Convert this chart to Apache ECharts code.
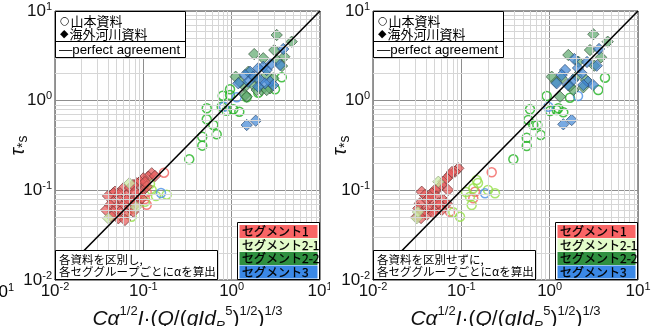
<!DOCTYPE html>
<html><head><meta charset="utf-8">
<script src="https://cdn.jsdelivr.net/npm/echarts@6/dist/echarts.min.js"></script>
<style>
html,body{margin:0;padding:0;background:#fff;}
#wrap{position:relative;width:659px;height:326px;overflow:hidden;background:#fff;}
#c1{position:absolute;left:0;top:0;width:330px;height:326px;}
#c2{position:absolute;left:330px;top:0;width:329px;height:326px;}
</style></head><body>
<div id="wrap"><div id="c1"></div><div id="c2"></div></div>
<script>
// ---------- data ----------
const tickExponentLabels = ['-2', '-1', '0', '1'];
const segmentNames = ['セグメント1', 'セグメント2-1', 'セグメント2-2', 'セグメント3'];
const sourceNames = ['山本資料', '海外河川資料'];
const lineName = 'perfect agreement';
const leftNote = ['各資料を区別し,', '各セググループごとにαを算出'];
const rightNote = ['各資料を区別せずに,', '各セググループごとにαを算出'];
const perfectLine = [[0.01, 0.01], [10, 10]];

// Left panel (各資料を区別し)
const leftSeg1Overseas = [[0.1244,0.1549],[0.1138,0.1419],[0.0999,0.1361],[0.0917,0.1248],[0.0841,0.1198],[0.0593,0.1053],[0.0478,0.0965],[0.0457,0.0927],[0.0544,0.0927],[0.0648,0.0887],[0.0841,0.0815],[0.0544,0.0780],[0.0457,0.0746],[0.0420,0.0686],[0.0499,0.0657],[0.0593,0.0686],[0.0707,0.0657],[0.0841,0.0717],[0.0457,0.0578],[0.0544,0.0578],[0.0648,0.0554],[0.0521,0.0488],[0.0438,0.0508],[0.0770,0.0578],[0.0999,0.1009],[0.1092,0.1098],[0.0917,0.0927],[0.0738,0.0746],[0.0648,0.0780],[0.0958,0.0815],[0.0707,0.1062],[0.0764,0.1147],[0.1044,0.1238],[0.1355,0.1445],[0.0378,0.0603],[0.0398,0.0865],[0.0805,0.0958],[0.0620,0.0467]];
const leftSeg21Overseas = [[0.0694,0.1198],[0.0401,0.0488],[0.0826,0.0652]];
const leftSeg22Overseas = [[3.235,5.40],[4.78,4.55],[3.04,3.67],[1.80,3.31],[3.94,3.09],[3.235,2.84],[1.11,1.85],[1.543,2.10],[2.28,2.97],[1.416,1.431],[1.758,1.495],[2.188,1.315],[2.716,1.373],[1.92,1.776],[2.493,1.932],[2.96,1.776],[1.416,1.157],[1.48,1.107],[1.92,1.315],[2.493,1.315],[3.715,2.435],[1.243,1.615]];
const leftSeg3Overseas = [[3.84,3.77],[3.53,2.50],[2.28,2.39],[2.00,2.30],[1.613,2.10],[2.493,2.197],[1.416,1.932],[1.758,1.85],[1.189,1.562],[1.543,1.627],[2.094,1.70],[2.716,1.627],[2.96,1.495],[2.385,1.562],[1.48,0.535],[1.872,0.598],[2.00,1.431],[2.79,2.564]];
const leftSeg1Yamamoto = [[0.1714,0.1573],[0.1092,0.095],[0.1044,0.080],[0.1092,0.0691]];
const leftSeg21Yamamoto = [[0.119,0.1177],[0.1244,0.1009],[0.1839,0.0894],[0.1044,0.0746],[0.0738,0.0508],[0.139,0.0865]];
const leftSeg22Yamamoto = [[3.69,1.822],[3.096,1.339],[0.958,1.339],[0.792,1.136],[1.48,1.09],[0.522,0.822],[0.771,0.856],[1.044,0.801],[1.22,0.753],[0.879,0.773],[0.522,0.620],[0.620,0.535],[0.465,0.396],[0.677,0.421],[0.465,0.315],[0.331,0.222],[2.00,1.227],[0.958,1.157]];
const leftSeg3Yamamoto = [[0.819,0.856],[1.14,1.09],[0.1585,0.0934]];

// Right panel (各資料を区別せずに)
const rightSeg1Overseas = [[0.0924,0.176],[0.0848,0.1614],[0.0744,0.1483],[0.0683,0.1362],[0.0625,0.1248],[0.0599,0.1147],[0.0549,0.1053],[0.0503,0.1009],[0.0356,0.0965],[0.0388,0.0887],[0.0462,0.0927],[0.0526,0.0849],[0.0625,0.0780],[0.0683,0.0717],[0.0573,0.0686],[0.0462,0.0746],[0.0405,0.0780],[0.0340,0.0717],[0.0326,0.0630],[0.0388,0.0603],[0.0442,0.0630],[0.0503,0.0603],[0.0599,0.0603],[0.0405,0.0531],[0.0482,0.0554],[0.0356,0.0554],[0.0549,0.0717],[0.0313,0.0508],[0.0784,0.160],[0.0442,0.0843],[0.0350,0.0491],[0.0707,0.1009]];
const rightSeg21Overseas = [[0.0549,0.1248],[0.0313,0.0488],[0.0323,0.0573]];
const rightSeg22Overseas = [[3.12,5.50],[4.54,4.55],[2.86,3.67],[1.626,3.23],[3.815,3.045],[3.20,2.454],[1.055,1.85],[1.31,1.107],[1.852,1.315],[2.404,1.41],[2.024,1.884],[2.578,1.70],[1.369,1.776],[2.11,2.72],[1.699,1.457],[1.18,1.615]];
const rightSeg3Overseas = [[3.62,3.77],[1.90,2.915],[3.41,2.454],[1.492,2.197],[1.369,1.932],[2.305,2.02],[1.838,1.70],[1.20,1.562],[1.613,1.495],[2.716,1.627],[3.096,1.495],[2.404,1.495],[1.427,0.545],[1.776,0.609],[2.094,2.313],[2.647,2.70]];
const rightSeg1Yamamoto = [[0.2207,0.1589],[0.1428,0.0965],[0.1366,0.0815],[0.0744,0.0578]];
const rightSeg21Yamamoto = [[0.1493,0.1303],[0.1366,0.1053],[0.2405,0.0927],[0.2004,0.1009],[0.1253,0.0849],[0.1310,0.0686],[0.0811,0.0569],[0.0966,0.0508],[0.1544,0.1207],[0.1129,0.0958]];
const rightSeg22Yamamoto = [[4.23,1.803],[3.55,1.315],[0.926,1.127],[1.699,1.079],[0.599,0.801],[1.20,0.787],[1.009,0.767],[1.427,0.742],[1.253,0.822],[0.573,0.609],[0.653,0.535],[0.725,0.535],[0.792,0.414],[0.550,0.386],[0.550,0.312],[0.388,0.222]];
const rightSeg3Yamamoto = [[0.1854,0.0927],[0.965,0.856],[2.094,1.127]];

// ---------- styles ----------
const FONT = "'Liberation Sans', Arial, 'Noto Sans CJK JP', sans-serif";
const CJK = "'Noto Sans CJK JP', 'Liberation Sans', sans-serif";
const diamondFill = ['rgba(232,92,92,0.9)', 'rgba(205,238,168,0.95)', 'rgba(92,168,108,0.88)', 'rgba(62,134,214,0.88)'];
const diamondEdge = ['#6a3434', '#8c9c78', '#34513a', '#2c4a6e'];
const circleEdge = ['#f2625f', '#96e04a', '#22b322', '#4a90e6'];
const legendFill = ['#f96565', '#e2fbc9', '#2f9040', '#3a88e6'];

const GRID_TOP = 11, GRID_W = 265, GRID_H = 269;

function supRich(big, small) {
  return {
    b: { fontSize: big, fontFamily: FONT, color: '#111', lineHeight: big + 3 },
    s: { fontSize: small, fontFamily: FONT, color: '#111', verticalAlign: 'top', lineHeight: small }
  };
}
function tickFmt(v) {
  const e = Math.round(Math.log10(v));
  return '{b|10}{s|' + tickExponentLabels[e + 2] + '}';
}

function minorLines(axisKey) {
  const arr = [];
  [0.01, 0.1, 1].forEach(d => { for (let m = 2; m <= 9; m++) { const o = {}; o[axisKey] = +(d * m).toPrecision(3); arr.push(o); } });
  return arr;
}

function makeOption(gl, P, note, yNameGap) {
  const xName = '{i|Cα}{sp|1/2}{i|I}{n|·(}{i|Q}{n|/(}{i|gId}{sb|R}{sp|5}{n|)}{sp|1/2}{n|)}{sp|1/3}';
  const nameRich = {
    i: { fontSize: 21, fontStyle: 'italic', fontFamily: FONT, color: '#111', lineHeight: 28 },
    n: { fontSize: 21, fontFamily: FONT, color: '#111', lineHeight: 28 },
    sp: { fontSize: 13, fontFamily: FONT, color: '#111', verticalAlign: 'top', lineHeight: 13 },
    sb: { fontSize: 13, fontStyle: 'italic', fontFamily: FONT, color: '#111', verticalAlign: 'bottom', lineHeight: 13 }
  };
  const series = [];
  series.push({ type: 'line', data: [], silent: true, z: 1,
    markLine: { silent: true, animation: false, symbol: ['none', 'none'], label: { show: false },
      lineStyle: { color: '#d6d6d6', width: 1, type: 'solid' }, emphasis: { disabled: true },
      data: minorLines('xAxis').concat(minorLines('yAxis')) } });
  const circ = [P.s1y, P.s21y, P.s22y, P.s3y];
  circ.forEach((d, k) => series.push({ type: 'scatter', data: d, symbol: 'circle', symbolSize: 9, z: 3,
    itemStyle: { color: 'rgba(255,255,255,0)', borderColor: circleEdge[k], borderWidth: 1.5 } }));
  const dia = [P.s1o, P.s21o, P.s22o, P.s3o];
  dia.forEach((d, k) => series.push({ type: 'scatter', data: d, symbol: 'rect', symbolRotate: 45, symbolSize: 8, z: 4,
    itemStyle: { color: diamondFill[k], borderColor: diamondEdge[k], borderWidth: 0.8 } }));
  series.push({ type: 'line', data: perfectLine, showSymbol: false, silent: true, z: 6,
    lineStyle: { color: '#000', width: 1.6 } });

  const gr = gl + GRID_W, gb = GRID_TOP + GRID_H;
  const graphic = [
    { type: 'rect', z: 50, shape: { x: gl + 0.5, y: GRID_TOP + 0.5, width: 130, height: 46 }, style: { fill: '#fff', stroke: '#000', lineWidth: 1 } },
    { type: 'line', z: 51, shape: { x1: gl, y1: 41.5, x2: gl + 130.5, y2: 41.5 }, style: { stroke: '#000', lineWidth: 1 } },
    { type: 'text', z: 70, style: { x: gl + 5, y: 21, text: '{c|○}{t|' + sourceNames[0] + '}', fill: '#000', verticalAlign: 'middle',
      rich: { c: { fontSize: 11, fontFamily: "'DejaVu Sans', sans-serif", fill: '#000', padding: [0, 1, 0, 0] }, t: { fontSize: 13, fontFamily: CJK, fill: '#000' } } } },
    { type: 'text', z: 70, style: { x: gl + 5, y: 34, text: '{c|◆}{t|' + sourceNames[1] + '}', fill: '#000', verticalAlign: 'middle',
      rich: { c: { fontSize: 11, fontFamily: "'DejaVu Sans', sans-serif", fill: '#000', padding: [0, 1, 0, 0] }, t: { fontSize: 13, fontFamily: CJK, fill: '#000' } } } },
    { type: 'text', z: 70, style: { x: gl + 4, y: 50, text: '—' + lineName, font: '13.3px ' + FONT, fill: '#000', verticalAlign: 'middle' } },
    { type: 'rect', z: 50, shape: { x: gl + 0.5, y: gb - 29.5, width: 162, height: 29 }, style: { fill: '#fff', stroke: '#000', lineWidth: 1 } },
    { type: 'text', z: 70, style: { x: gl + 4, y: gb - 20.5, text: note[0], font: '11.5px ' + CJK, fill: '#000', verticalAlign: 'middle' } },
    { type: 'text', z: 70, style: { x: gl + 4, y: gb - 8, text: note[1], font: '11.5px ' + CJK, fill: '#000', verticalAlign: 'middle' } },
    { type: 'rect', z: 50, shape: { x: gr - 82.5, y: gb - 57.5, width: 82, height: 57 }, style: { fill: '#fff', stroke: '#000', lineWidth: 1 } }
  ];
  segmentNames.forEach((nm, k) => {
    graphic.push({ type: 'rect', z: 51, shape: { x: gr - 80.5, y: gb - 55 + k * 13.5, width: 78, height: 13 }, style: { fill: legendFill[k] } });
    graphic.push({ type: 'text', z: 72, style: { x: gr - 78, y: gb - 48.5 + k * 13.5, text: nm, font: '12px ' + CJK,
      fill: '#000', stroke: '#000', lineWidth: 0.25, verticalAlign: 'middle' } });
  });

  return {
    animation: false,
    backgroundColor: '#fff',
    grid: { left: gl, top: GRID_TOP, width: GRID_W, height: GRID_H, show: true, borderColor: '#333', borderWidth: 1,
      backgroundColor: '#fff', containLabel: false, outerBoundsMode: 'none' },
    xAxis: { type: 'log', logBase: 10, min: 0.01, max: 10,
      axisLine: { show: false }, axisTick: { show: false },
      splitLine: { show: true, lineStyle: { color: '#8e8e8e', width: 1 } },
      axisLabel: { margin: 1, formatter: tickFmt, rich: supRich(17, 11), showMinLabel: true, showMaxLabel: true, hideOverlap: false },
      name: xName, nameLocation: 'middle', nameGap: 25, nameMoveOverlap: false, nameTextStyle: { rich: nameRich } },
    yAxis: { type: 'log', logBase: 10, min: 0.01, max: 10,
      axisLine: { show: false }, axisTick: { show: false },
      splitLine: { show: true, lineStyle: { color: '#8e8e8e', width: 1 } },
      axisLabel: { margin: 3, formatter: tickFmt, rich: supRich(17, 11), showMinLabel: true, showMaxLabel: true, hideOverlap: false },
      name: '{t|τ}{s|*s}', nameLocation: 'middle', nameGap: yNameGap, nameMoveOverlap: false,
      nameTextStyle: { rich: {
        t: { fontSize: 20, fontStyle: 'italic', fontFamily: FONT, color: '#111', lineHeight: 24 },
        s: { fontSize: 14, fontFamily: FONT, color: '#111', verticalAlign: 'bottom', lineHeight: 14 } } } },
    series: series,
    graphic: graphic
  };
}

const leftPanel = { s1o: leftSeg1Overseas, s21o: leftSeg21Overseas, s22o: leftSeg22Overseas, s3o: leftSeg3Overseas,
  s1y: leftSeg1Yamamoto, s21y: leftSeg21Yamamoto, s22y: leftSeg22Yamamoto, s3y: leftSeg3Yamamoto };
const rightPanel = { s1o: rightSeg1Overseas, s21o: rightSeg21Overseas, s22o: rightSeg22Overseas, s3o: rightSeg3Overseas,
  s1y: rightSeg1Yamamoto, s21y: rightSeg21Yamamoto, s22y: rightSeg22Yamamoto, s3y: rightSeg3Yamamoto };

const opt1 = makeOption(55, leftPanel, leftNote, 25);
// fragment of a cut-off tick label at the very left edge of the picture
opt1.graphic.push({ type: 'text', z: 60, style: { x: -11, y: 282, text: '{b|10}{s|1}', rich: supRich(17, 11) } });
const c1 = echarts.init(document.getElementById('c1'), null, { renderer: 'canvas' });
c1.setOption(opt1);
const c2 = echarts.init(document.getElementById('c2'), null, { renderer: 'canvas' });
c2.setOption(makeOption(43, rightPanel, rightNote, 21));
</script>
</body></html>
